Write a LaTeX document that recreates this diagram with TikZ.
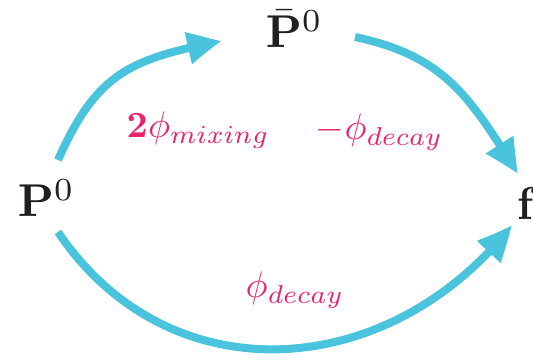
\documentclass[tikz,border=0pt]{standalone}
\usepackage{amsmath,bm}
\usetikzlibrary{arrows.meta,bending}
\definecolor{arrowcyan}{RGB}{74,195,220}
\definecolor{labelpink}{RGB}{232,36,110}
\definecolor{textdark}{RGB}{35,31,32}
\begin{document}
\begin{tikzpicture}[x=1pt,y=1pt,
  state/.style={anchor=base west,inner sep=0pt,text=textdark,font=\fontsize{10}{12}\selectfont,scale=4.6,transform shape},
  phase/.style={anchor=base west,inner sep=0pt,text=labelpink,font=\fontsize{10}{12}\selectfont,scale=3.7,transform shape},
  flow/.style={draw=arrowcyan,line width=8pt,-{Triangle[length=36pt,width=30pt,bend]}}]
\useasboundingbox (0,0) rectangle (533,359);
\node[state] (P) at (17,142) {$\mathbf{P}^0$};
\node[state] (Pb) at (265,311) {$\bar{\mathbf{P}}^{0}$};
\node[state] (f) at (516,139) {$\mathbf{f}$};
\node[phase] (mix) at (126,221) {$\mathbf{2}\phi_{mixing}$};
\node[phase] (mdec) at (315,219) {$-\phi_{decay}$};
\node[phase] (dec) at (245,61) {$\phi_{decay}$};
\coordinate (a1s) at (58,199);
\coordinate (a1e) at (222,318);
\coordinate (a2s) at (355,322);
\coordinate (a2e) at (518,185);
\coordinate (a3s) at (58,127);
\coordinate (a3e) at (512,134);
\draw[flow] (a1s) to[out=66,in=191,looseness=1.2] (a1e);
\draw[flow] (a2s) to[out=-12,in=122,looseness=1.1] (a2e);
\draw[flow] (a3s) to[out=-56,in=232,looseness=1.12] (a3e);
\end{tikzpicture}
\end{document}
